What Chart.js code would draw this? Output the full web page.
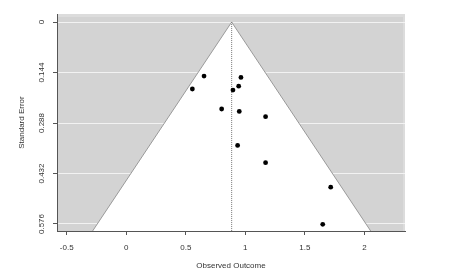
<!DOCTYPE html>
<html>
<head>
<meta charset="utf-8">
<script src="https://cdn.jsdelivr.net/npm/chart.js@4/dist/chart.umd.min.js"></script>
<style>
html,body{margin:0;padding:0;background:#fff;}
#wrap{width:459px;height:278px;position:relative;}
</style>
</head>
<body>
<div id="wrap"><canvas id="c" width="459" height="278"></canvas></div>
<script>
// Observed outcomes (x) and their standard errors (y)
const observedOutcome = [0.653, 0.963, 0.555, 0.944, 0.896, 0.801, 0.949, 1.170, 0.935, 1.170, 1.717, 1.650];
const standardError   = [0.154, 0.158, 0.191, 0.183, 0.194, 0.248, 0.255, 0.270, 0.352, 0.401, 0.471, 0.577];
// Funnel (pseudo confidence region) vertices and summary estimate
const funnelX = [-0.283, 0.885, 2.053];
const funnelY = [0.596, 0, 0.596];
const estimate = 0.885;
const estimateSE = [0, 0.596];
// Axis ticks
const xTicks = [-0.5, 0, 0.5, 1, 1.5, 2];
const yTicks = [0, 0.144, 0.288, 0.432, 0.576];
const xRange = [-0.582, 2.341];
const yRange = [-0.023, 0.596];

const points = observedOutcome.map((x, i) => ({x: x, y: standardError[i]}));
const funnel = funnelX.map((x, i) => ({x: x, y: funnelY[i]}));
const centerLine = estimateSE.map(y => ({x: estimate, y: y}));

const bgPlugin = {
  id: 'bg',
  beforeDraw(chart) {
    const a = chart.chartArea, ctx = chart.ctx;
    ctx.save();
    ctx.fillStyle = '#d3d3d3';
    ctx.fillRect(a.left, a.top, a.right - a.left, a.bottom - a.top);
    ctx.fillStyle = '#dcdcdc';
    ctx.fillRect(a.left, a.top, a.right - a.left, 3);
    ctx.fillRect(a.right - 2, a.top, 2, a.bottom - a.top);
    ctx.restore();
  }
};

const font = {family: '"Liberation Sans", Arial, sans-serif', size: 8};

new Chart(document.getElementById('c'), {
  type: 'scatter',
  data: {
    datasets: [
      {
        label: 'studies',
        data: points,
        order: 0,
        pointRadius: 2.4,
        pointBackgroundColor: '#000',
        pointBorderWidth: 0,
        showLine: false
      },
      {
        label: 'estimate',
        data: centerLine,
        order: 1,
        showLine: true,
        pointRadius: 0,
        borderColor: '#777',
        borderWidth: 1,
        borderDash: [1, 1],
        fill: false
      },
      {
        label: 'funnel',
        data: funnel,
        order: 2,
        showLine: true,
        pointRadius: 0,
        borderColor: '#9a9a9a',
        borderWidth: 1,
        backgroundColor: '#ffffff',
        fill: {value: yRange[1]}
      }
    ]
  },
  plugins: [bgPlugin],
  options: {
    responsive: false,
    animation: false,
    events: [],
    layout: {padding: {top: 14, right: 54, left: 0, bottom: 0}},
    plugins: {legend: {display: false}, tooltip: {enabled: false}},
    scales: {
      x: {
        type: 'linear',
        min: xRange[0],
        max: xRange[1],
        afterBuildTicks: s => { s.ticks = xTicks.map(v => ({value: v})); },
        afterFit: s => { s.height = 47; },
        ticks: {color: '#333', font: font, padding: 8, maxRotation: 0, callback: v => String(v)},
        grid: {drawOnChartArea: false, tickLength: 4, tickColor: '#555'},
        border: {display: true, color: '#555', width: 1},
        title: {display: true, text: 'Observed Outcome', color: '#333', font: font, padding: {top: 0, bottom: 7}}
      },
      y: {
        type: 'linear',
        reverse: true,
        min: yRange[0],
        max: yRange[1],
        afterBuildTicks: s => { s.ticks = yTicks.map(v => ({value: v})); },
        afterFit: s => { s.width = 57; },
        ticks: {color: '#333', font: font, padding: 1, minRotation: 90, maxRotation: 90, crossAlign: 'center', callback: v => String(v)},
        grid: {color: '#f2f2f2', lineWidth: 1, tickLength: 4, tickColor: '#555'},
        border: {display: true, color: '#555', width: 1},
        title: {display: true, text: 'Standard Error', color: '#333', font: font, padding: {top: 17, bottom: 0}}
      }
    }
  }
});
</script>
</body>
</html>
